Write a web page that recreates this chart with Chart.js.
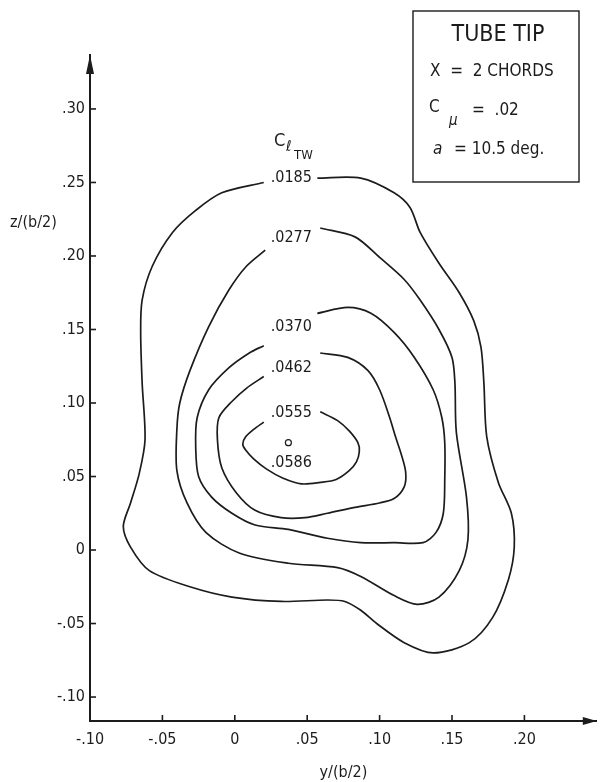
<!DOCTYPE html>
<html>
<head>
<meta charset="utf-8">
<script src="https://cdn.jsdelivr.net/npm/chart.js@4.4.0/dist/chart.umd.min.js"></script>
<style>
  html, body { margin: 0; padding: 0; background: #fff; }
</style>
</head>
<body>
<canvas id="myChart" width="602" height="782"></canvas>
<script>
// tick values of both axes
const xTicks = [-0.10, -0.05, 0, 0.05, 0.10, 0.15, 0.20]
const zTicks = [-0.10, -0.05, 0, 0.05, 0.10, 0.15, 0.20, 0.25, 0.30]

// contour levels of C_l_TW and where their labels sit
const levels = ['.0185', '.0277', '.0370', '.0462', '.0555', '.0586']
const labelY = [0.039, 0.039, 0.039, 0.039, 0.039, 0.039]
const labelZ = [0.253, 0.212, 0.152, 0.124, 0.093, 0.059]

// contour lines, y/(b/2) and z/(b/2) (open at the label)
const c0185y = [0.057, 0.087, 0.110, 0.121, 0.128, 0.141, 0.155, 0.165, 0.170, 0.172, 0.174, 0.182, 0.191, 0.193, 0.189, 0.178, 0.162, 0.137, 0.117, 0.098, 0.087, 0.076, 0.064, 0.032, -0.002, -0.031, -0.059, -0.072, -0.077, -0.072, -0.066, -0.062, -0.064, -0.065, -0.064, -0.057, -0.043, -0.027, -0.009, 0.020]
const c0185z = [0.253, 0.253, 0.243, 0.233, 0.216, 0.195, 0.175, 0.156, 0.138, 0.114, 0.077, 0.046, 0.025, 0.002, -0.020, -0.046, -0.063, -0.070, -0.063, -0.050, -0.041, -0.035, -0.034, -0.035, -0.032, -0.025, -0.014, 0.002, 0.016, 0.032, 0.052, 0.075, 0.114, 0.148, 0.170, 0.193, 0.216, 0.231, 0.243, 0.250]

const c0277y = [0.059, 0.083, 0.100, 0.117, 0.128, 0.141, 0.150, 0.152, 0.153, 0.160, 0.161, 0.155, 0.141, 0.126, 0.110, 0.087, 0.071, 0.037, 0.003, -0.020, -0.033, -0.040, -0.040, -0.038, -0.031, -0.018, -0.004, 0.008, 0.021]
const c0277z = [0.219, 0.213, 0.199, 0.184, 0.170, 0.150, 0.131, 0.114, 0.080, 0.036, 0.007, -0.014, -0.032, -0.037, -0.031, -0.018, -0.012, -0.009, -0.002, 0.012, 0.032, 0.054, 0.082, 0.100, 0.122, 0.152, 0.177, 0.193, 0.204]

const c0370y = [0.057, 0.078, 0.094, 0.110, 0.124, 0.137, 0.143, 0.145, 0.145, 0.144, 0.139, 0.130, 0.110, 0.087, 0.064, 0.037, 0.014, -0.002, -0.016, -0.025, -0.027, -0.026, -0.018, -0.004, 0.010, 0.020]
const c0370z = [0.161, 0.165, 0.161, 0.148, 0.131, 0.109, 0.090, 0.073, 0.048, 0.025, 0.012, 0.005, 0.005, 0.005, 0.008, 0.014, 0.017, 0.025, 0.036, 0.050, 0.070, 0.090, 0.109, 0.124, 0.134, 0.139]

const c0462y = [0.059, 0.078, 0.092, 0.100, 0.107, 0.111, 0.115, 0.118, 0.117, 0.110, 0.100, 0.083, 0.064, 0.0485, 0.032, 0.014, 0.001, -0.009, -0.012, -0.011, -0.002, 0.008, 0.020]
const c0462z = [0.134, 0.131, 0.122, 0.109, 0.090, 0.077, 0.065, 0.053, 0.043, 0.035, 0.032, 0.029, 0.025, 0.022, 0.022, 0.027, 0.039, 0.056, 0.075, 0.090, 0.101, 0.110, 0.118]

const c0555y = [0.059, 0.071, 0.079, 0.085, 0.086, 0.084, 0.079, 0.070, 0.059, 0.046, 0.033, 0.022, 0.013, 0.0075, 0.0055, 0.0075, 0.013, 0.020]
const c0555z = [0.094, 0.088, 0.081, 0.073, 0.067, 0.060, 0.054, 0.048, 0.046, 0.045, 0.049, 0.055, 0.062, 0.068, 0.072, 0.077, 0.082, 0.087]

// peak value location
const peakY = [0.037]
const peakZ = [0.073]

const FONT = '"Liberation Sans Narrow", "DejaVu Sans Condensed", sans-serif'
const INK = '#1c1c1c'

function pts(ys, zs) {
	return ys.map((v, i) => ({ x: v, y: zs[i] }))
}

function fmt(v) {
	if (Math.abs(v) < 1e-9) return '0'
	let s = Math.abs(v).toFixed(2).replace(/^0/, '')
	return (v < 0 ? '-' : '') + s
}

function contour(ys, zs) {
	return {
		data: pts(ys, zs),
		showLine: true,
		borderColor: INK,
		borderWidth: 1.7,
		pointRadius: 0,
		tension: 0.3,
		fill: false
	}
}

const extras = {
	id: 'extras',
	afterDraw(chart) {
		const ctx = chart.ctx
		const xs = chart.scales.x, ys = chart.scales.y
		const a = chart.chartArea
		ctx.save()
		ctx.strokeStyle = INK
		ctx.fillStyle = INK
		ctx.lineWidth = 1.6

		// inward tick marks
		for (let v of xTicks) {
			let px = xs.getPixelForValue(v)
			ctx.beginPath(); ctx.moveTo(px, a.bottom); ctx.lineTo(px, a.bottom - 6); ctx.stroke()
		}
		for (let v of zTicks) {
			let py = ys.getPixelForValue(v)
			ctx.beginPath(); ctx.moveTo(a.left, py); ctx.lineTo(a.left + 6, py); ctx.stroke()
		}

		// arrow heads
		ctx.beginPath()
		ctx.moveTo(a.left, a.top); ctx.lineTo(a.left - 4, a.top + 19); ctx.lineTo(a.left + 4, a.top + 19)
		ctx.closePath(); ctx.fill()
		ctx.beginPath()
		ctx.moveTo(a.right, a.bottom); ctx.lineTo(a.right - 14, a.bottom - 4); ctx.lineTo(a.right - 14, a.bottom + 4)
		ctx.closePath(); ctx.fill()

		// vertical axis title
		ctx.font = '16px ' + FONT
		ctx.textAlign = 'left'
		ctx.textBaseline = 'middle'
		ctx.fillText('z/(b/2)', 10, 223)

		// contour labels
		ctx.font = '16px ' + FONT
		ctx.textAlign = 'center'
		levels.forEach((t, i) => {
			ctx.fillText(t, xs.getPixelForValue(labelY[i]), ys.getPixelForValue(labelZ[i]))
		})

		// C_l_TW caption
		ctx.textAlign = 'left'
		ctx.font = '18px ' + FONT
		ctx.fillText('C', 274, 141)
		ctx.font = 'italic 15px ' + FONT
		ctx.fillText('ℓ', 286, 147)
		ctx.font = '13px ' + FONT
		ctx.fillText('TW', 294, 156)

		// info box
		ctx.lineWidth = 1.4
		ctx.strokeRect(413, 11, 166, 171)
		ctx.textAlign = 'center'
		ctx.font = '23px ' + FONT
		ctx.fillText('TUBE TIP', 498, 35)
		ctx.textAlign = 'left'
		ctx.font = '17px ' + FONT
		ctx.fillText('X  =  2 CHORDS', 430, 72)
		ctx.fillText('C', 429, 108)
		ctx.font = 'italic 15px ' + FONT
		ctx.fillText('μ', 449, 121)
		ctx.font = '17px ' + FONT
		ctx.fillText('=  .02', 472, 111)
		ctx.font = 'italic 17px ' + FONT
		ctx.fillText('a', 433, 150)
		ctx.font = '17px ' + FONT
		ctx.fillText('= 10.5 deg.', 454, 150)
		ctx.restore()
	}
}

var ctx = document.getElementById('myChart').getContext('2d')
var myChart = new Chart(ctx, {
	type: 'scatter',
	data: {
		datasets: [
			contour(c0185y, c0185z),
			contour(c0277y, c0277z),
			contour(c0370y, c0370z),
			contour(c0462y, c0462z),
			contour(c0555y, c0555z),
			{
				data: pts(peakY, peakZ),
				pointRadius: 3,
				pointBorderWidth: 1.2,
				pointBackgroundColor: '#fff',
				pointBorderColor: INK
			}
		]
	},
	options: {
		responsive: false,
		animation: false,
		layout: { padding: { top: 55, right: 0, bottom: 0, left: 0 } },
		plugins: { legend: { display: false }, tooltip: { enabled: false } },
		scales: {
			x: {
				type: 'linear',
				min: -0.10,
				max: 0.25,
				afterBuildTicks: s => { s.ticks = xTicks.map(v => ({ value: v })) },
				afterFit: s => { s.height = 61 },
				grid: { display: false, drawTicks: false },
				border: { display: true, color: INK, width: 2 },
				ticks: { callback: v => fmt(v), color: INK, font: { family: FONT, size: 16 }, padding: 9, maxRotation: 0 },
				title: { display: true, text: 'y/(b/2)', color: INK, font: { family: FONT, size: 16 }, padding: 0 }
			},
			y: {
				type: 'linear',
				min: -0.1163,
				max: 0.3367,
				afterBuildTicks: s => { s.ticks = zTicks.map(v => ({ value: v })) },
				afterFit: s => { s.width = 90 },
				grid: { display: false, drawTicks: false },
				border: { display: true, color: INK, width: 2 },
				ticks: { callback: v => fmt(v), color: INK, font: { family: FONT, size: 16 }, padding: 5 }
			}
		}
	},
	plugins: [extras]
})
</script>
</body>
</html>
